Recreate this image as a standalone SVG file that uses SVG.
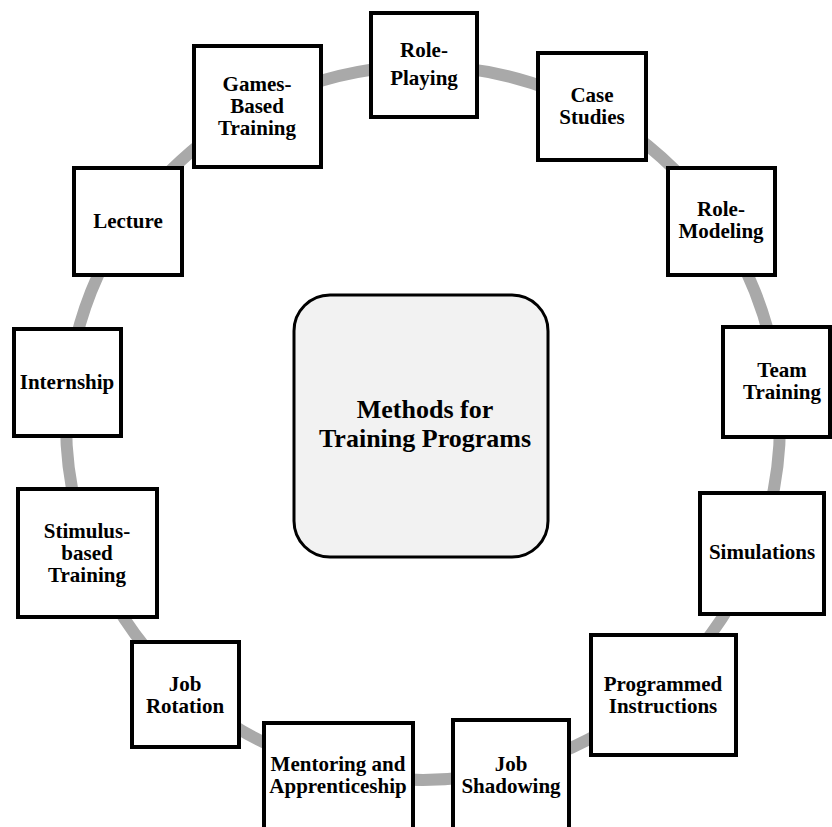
<svg xmlns="http://www.w3.org/2000/svg" width="832" height="827" viewBox="0 0 832 827">
  <style>
    .box { fill: #ffffff; stroke: #000000; stroke-width: 4; }
    .hub { fill: #f2f2f2; stroke: #000000; stroke-width: 3; }
    .ring { fill: none; stroke: #a9a9a9; stroke-width: 12; }
    text { font-family: "Liberation Serif", "Times New Roman", serif; font-weight: bold; fill: #000000; text-anchor: middle; }
    .lbl { font-size: 21px; }
    .title { font-size: 26px; }
  </style>
  <rect width="832" height="827" fill="#ffffff"/>

  <!-- ring joining the methods -->
  <g id="connectors">
    <circle class="ring" cx="423" cy="423" r="357"/>
  </g>

  <!-- central hub -->
  <g id="hub">
    <rect class="hub" x="294" y="295" width="254" height="262" rx="36" ry="36"/>
    <text class="title" x="425" y="418">Methods for</text>
    <text class="title" x="425" y="447">Training Programs</text>
  </g>

  <!-- methods around the ring -->
  <g id="role-playing">
    <rect class="box" x="371" y="13" width="106" height="104"/>
    <text class="lbl" x="424" y="57">Role-</text>
    <text class="lbl" x="424" y="85">Playing</text>
  </g>

  <g id="case-studies">
    <rect class="box" x="538" y="53" width="108" height="107"/>
    <text class="lbl" x="592" y="102">Case</text>
    <text class="lbl" x="592" y="124">Studies</text>
  </g>

  <g id="role-modeling">
    <rect class="box" x="668" y="168" width="107" height="107"/>
    <text class="lbl" x="721" y="216">Role-</text>
    <text class="lbl" x="721" y="238">Modeling</text>
  </g>

  <g id="team-training">
    <rect class="box" x="723" y="327" width="107" height="110"/>
    <text class="lbl" x="782" y="377">Team</text>
    <text class="lbl" x="782" y="399">Training</text>
  </g>

  <g id="simulations">
    <rect class="box" x="700" y="493" width="124" height="121"/>
    <text class="lbl" x="762" y="559">Simulations</text>
  </g>

  <g id="programmed-instructions">
    <rect class="box" x="591" y="635" width="145" height="120"/>
    <text class="lbl" x="663" y="691">Programmed</text>
    <text class="lbl" x="663" y="713">Instructions</text>
  </g>

  <g id="job-shadowing">
    <rect class="box" x="453" y="720" width="116" height="112"/>
    <text class="lbl" x="511" y="771">Job</text>
    <text class="lbl" x="511" y="793">Shadowing</text>
  </g>

  <g id="mentoring">
    <rect class="box" x="264" y="723" width="149" height="108"/>
    <text class="lbl" x="338" y="771">Mentoring and</text>
    <text class="lbl" x="338" y="793">Apprenticeship</text>
  </g>

  <g id="job-rotation">
    <rect class="box" x="132" y="642" width="107" height="105"/>
    <text class="lbl" x="185" y="691">Job</text>
    <text class="lbl" x="185" y="713">Rotation</text>
  </g>

  <g id="stimulus-based">
    <rect class="box" x="18" y="489" width="139" height="128"/>
    <text class="lbl" x="87" y="538">Stimulus-</text>
    <text class="lbl" x="87" y="560">based</text>
    <text class="lbl" x="87" y="582">Training</text>
  </g>

  <g id="internship">
    <rect class="box" x="14" y="329" width="107" height="107"/>
    <text class="lbl" x="67" y="389">Internship</text>
  </g>

  <g id="lecture">
    <rect class="box" x="74" y="168" width="108" height="107"/>
    <text class="lbl" x="128" y="228">Lecture</text>
  </g>

  <g id="games-based">
    <rect class="box" x="194" y="46" width="127" height="121"/>
    <text class="lbl" x="257" y="91">Games-</text>
    <text class="lbl" x="257" y="113">Based</text>
    <text class="lbl" x="257" y="135">Training</text>
  </g>
</svg>
